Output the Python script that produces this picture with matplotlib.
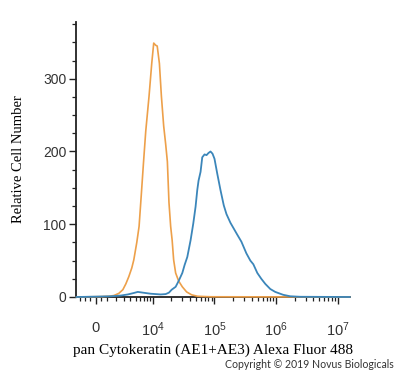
import numpy as np
import matplotlib
matplotlib.use("Agg")
import matplotlib.pyplot as plt
from matplotlib.ticker import FixedLocator, FixedFormatter

plt.rcParams['mathtext.fontset'] = 'custom'
plt.rcParams['mathtext.rm'] = 'Liberation Sans'
plt.rcParams['mathtext.it'] = 'Liberation Sans'

# ---- data (fluorescence intensity, relative cell number) ----
iso_x = [-1900, 450, 1209, 1734, 2318, 2842, 3276, 3751, 4272, 4648, 5262, 5776,
         6307, 6880, 7529, 8557, 9493, 10247, 11057, 11705, 12721, 13720, 14961,
         16129, 17191, 18254, 19454, 20575, 21764, 23450, 26230, 30100, 35338,
         42575, 53200, 86260, 1.55e7]
iso_y = [0, 0.5, 1, 2, 5, 10, 18, 28, 40, 51, 75, 97,
         140, 184, 228, 276, 321, 349, 346, 345, 321, 276, 235,
         210, 186, 130, 97, 78, 51, 33, 22, 14, 7,
         3, 1, 0.3, 0]

ab_x = [-1900, 0, 1413, 2573, 3588, 4648, 5481, 6693, 9136, 13367, 16129, 18254,
        20197, 23450, 26230, 30100, 32800, 36270, 41006, 45330, 49380, 52610,
        55220, 59500, 63360, 69020, 74350, 80090, 86260, 92910, 100060, 110620,
        125060, 141350, 156290, 181230, 232520, 272810, 328360, 380900, 425700,
        493900, 573100, 664900, 799900, 962300, 1295400, 1679800, 2437700, 1.55e7]
ab_y = [0, 0.5, 1, 2, 3.5, 5.5, 7, 6, 4.5, 3.5, 4, 6,
        10, 14, 22, 33, 44, 55, 78, 101, 124, 147,
        160, 172, 192, 196, 195, 198, 200, 197, 190, 170,
        147, 126, 114, 102, 86, 76, 60, 50, 45,
        33, 25, 18, 11, 7, 3, 1, 0.3, 0]

major_ticks = [0, 1e4, 1e5, 1e6, 1e7]
major_labels = ['0', r'$10^{4}$', r'$10^{5}$', r'$10^{6}$', r'$10^{7}$']
y_ticks = [0, 100, 200, 300]

A = 2410.0
def fwd(x):
    return np.arcsinh(np.asarray(x, dtype=float) / A) / np.log(10)
def inv(u):
    return A * np.sinh(np.asarray(u, dtype=float) * np.log(10))

fig = plt.figure(figsize=(4.0, 3.78), dpi=100)
ax = fig.add_axes([0.19, 0.2143, 0.685, 0.7275])
ax.set_xscale('function', functions=(fwd, inv))

ax.plot(iso_x, iso_y, color='#EDA04A', lw=1.2, zorder=3, clip_on=False)
ax.plot(ab_x, ab_y, color='#3B86BA', lw=1.3, zorder=4, clip_on=False)

ax.set_xlim(-1960, 1.5625e7)
ax.set_ylim(0, 378)

for s in ['top', 'right']:
    ax.spines[s].set_visible(False)
for s in ['left', 'bottom']:
    ax.spines[s].set_linewidth(1.3)
    ax.spines[s].set_color('#222222')

ax.xaxis.set_major_locator(FixedLocator(major_ticks))
ax.xaxis.set_major_formatter(FixedFormatter(major_labels))
minor = [-1500, -1000, -500, 500]
for d in [1e3, 1e4, 1e5, 1e6]:
    minor += [k * d for k in range(2 if d > 1e3 else 1, 10)]
ax.xaxis.set_minor_locator(FixedLocator(minor))
ax.xaxis.set_minor_formatter(FixedFormatter([]))

ax.yaxis.set_major_locator(FixedLocator(y_ticks))
ax.yaxis.set_minor_locator(FixedLocator(np.arange(25, 378, 25)))

ax.tick_params(axis='both', which='major', direction='out', length=5, width=1.0,
               color='#222222', labelsize=10, labelcolor='#333333')
ax.tick_params(axis='both', which='minor', direction='out', length=3, width=0.9,
               color='#222222')
ax.tick_params(axis='x', which='major', pad=12, labelsize=10.5)
ax.tick_params(axis='y', which='major', pad=2)
for lab in ax.get_xticklabels() + ax.get_yticklabels():
    lab.set_family('Liberation Sans')

ax.set_ylabel('Relative Cell Number', family='Liberation Serif', fontsize=10.5,
              labelpad=13)
ax.set_xlabel('pan Cytokeratin (AE1+AE3) Alexa Fluor 488', family='Liberation Serif',
              fontsize=11, labelpad=3)

fig.text(0.985, 0.02, 'Copyright \u00a9 2019 Novus Biologicals', ha='right',
         va='bottom', fontsize=7.6, family='Lato', color='#333333')

fig.savefig('out.png', dpi=100)
